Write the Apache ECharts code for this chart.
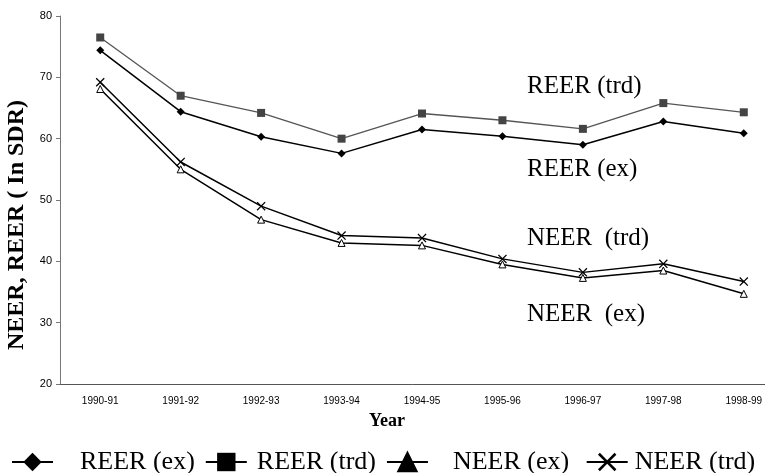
<!DOCTYPE html>
<html>
<head>
<meta charset="utf-8">
<script src="https://cdn.jsdelivr.net/npm/echarts@6/dist/echarts.min.js"></script>
<style>
  html, body { margin: 0; padding: 0; background: #fff; }
  #chart { width: 765px; height: 473px; }
</style>
</head>
<body>
<div id="chart"></div>
<script>
// categories
const years = ['1990-91', '1991-92', '1992-93', '1993-94', '1994-95', '1995-96', '1996-97', '1997-98', '1998-99']
// series values
const reerEx = [74.4, 64.4, 60.3, 57.6, 61.5, 60.4, 59.0, 62.8, 60.9]
const reerTrd = [76.5, 67.0, 64.2, 60.0, 64.1, 63.0, 61.6, 65.8, 64.3]
const neerEx = [68.1, 55.0, 46.8, 43.0, 42.6, 39.5, 37.3, 38.5, 34.7]
const neerTrd = [69.2, 56.2, 49.0, 44.2, 43.8, 40.4, 38.2, 39.6, 36.7]
// labels written on the plot
const notes = ['REER (trd)', 'REER (ex)', 'NEER  (trd)', 'NEER  (ex)']

// X 标记
const crossPath = 'path://M0,1L1,0L5,4L9,0L10,1L6,5L10,9L9,10L5,6L1,10L0,9L4,5Z'
const serif = '"Liberation Serif", "DejaVu Serif", serif'
const sans = '"Liberation Sans", Arial, sans-serif'

function note (text, y) {
  return {
    type: 'text',
    x: 527,
    y: y,
    style: { text: text, font: '25px ' + serif, fill: '#000', textVerticalAlign: 'middle' }
  }
}

let mycharts = echarts.init(document.getElementById('chart'))
mycharts.setOption({
  animation: false,
  backgroundColor: '#fff',
  grid: {
    left: 60,
    width: 724,
    top: 16,
    bottom: 89,
    outerBoundsMode: 'none',
    containLabel: false
  },
  legend: {
    left: 6,
    top: 444,
    width: 756,
    padding: [5, 0, 5, 5],
    itemWidth: 41,
    itemHeight: 23,
    itemGap: 10,
    textStyle: { fontFamily: serif, fontSize: 26, color: '#000' },
    // NEER (ex) 后面留多一点空
    formatter: function (name) {
      return name === 'NEER (ex)' ? name + '\u00a0' : name
    },
    data: [
      { name: 'REER (ex)', textStyle: { padding: [0, 0, 0, 22] } },
      { name: 'REER (trd)', itemStyle: { color: '#000' }, lineStyle: { color: '#000' }, textStyle: { padding: [0, 0, 0, 5] } },
      { name: 'NEER (ex)', itemStyle: { color: '#000', borderColor: '#000' }, textStyle: { padding: [0, 0, 0, 20] } },
      { name: 'NEER (trd)', textStyle: { padding: [0, 0, 0, 2] } }
    ]
  },
  xAxis: {
    type: 'category',
    data: years,
    name: 'Year',
    nameLocation: 'middle',
    nameGap: 28,
    nameTextStyle: { fontFamily: serif, fontSize: 18, fontWeight: 'bold', color: '#000', padding: [0, 70, 0, 0] },
    axisLine: { lineStyle: { color: '#555', width: 1 } },
    axisTick: { length: 4, lineStyle: { color: '#555' } },
    axisLabel: { fontFamily: sans, fontSize: 10, color: '#000', margin: 12 }
  },
  yAxis: {
    type: 'value',
    min: 20,
    max: 80,
    interval: 10,
    splitLine: { show: false },
    axisLine: { show: true, lineStyle: { color: '#777', width: 1 } },
    axisTick: { show: true, length: 4, lineStyle: { color: '#777' } },
    axisLabel: { fontFamily: sans, fontSize: 11, color: '#000', margin: 8 }
  },
  graphic: [
    {
      type: 'text',
      x: 17,
      y: 225,
      rotation: Math.PI / 2,
      style: {
        text: 'NEER, REER ( In SDR)',
        font: 'bold 24px ' + serif,
        fill: '#000',
        textAlign: 'center',
        textVerticalAlign: 'middle'
      }
    },
    note(notes[0], 86),
    note(notes[1], 169),
    note(notes[2], 238),
    note(notes[3], 314)
  ],
  series: [
    {
      name: 'REER (ex)',
      type: 'line',
      data: reerEx,
      symbol: 'diamond',
      symbolSize: 8,
      itemStyle: { color: '#000' },
      lineStyle: { color: '#000', width: 1.5 }
    },
    {
      name: 'REER (trd)',
      type: 'line',
      data: reerTrd,
      symbol: 'rect',
      symbolSize: 8,
      itemStyle: { color: '#444' },
      lineStyle: { color: '#555', width: 1.3 }
    },
    {
      name: 'NEER (ex)',
      type: 'line',
      data: neerEx,
      symbol: 'triangle',
      symbolSize: 7,
      itemStyle: { color: '#fff', borderColor: '#000', borderWidth: 1 },
      lineStyle: { color: '#000', width: 1.5 }
    },
    {
      name: 'NEER (trd)',
      type: 'line',
      data: neerTrd,
      symbol: crossPath,
      symbolSize: 9,
      itemStyle: { color: '#000' },
      lineStyle: { color: '#000', width: 1.5 }
    }
  ]
})
</script>
</body>
</html>
